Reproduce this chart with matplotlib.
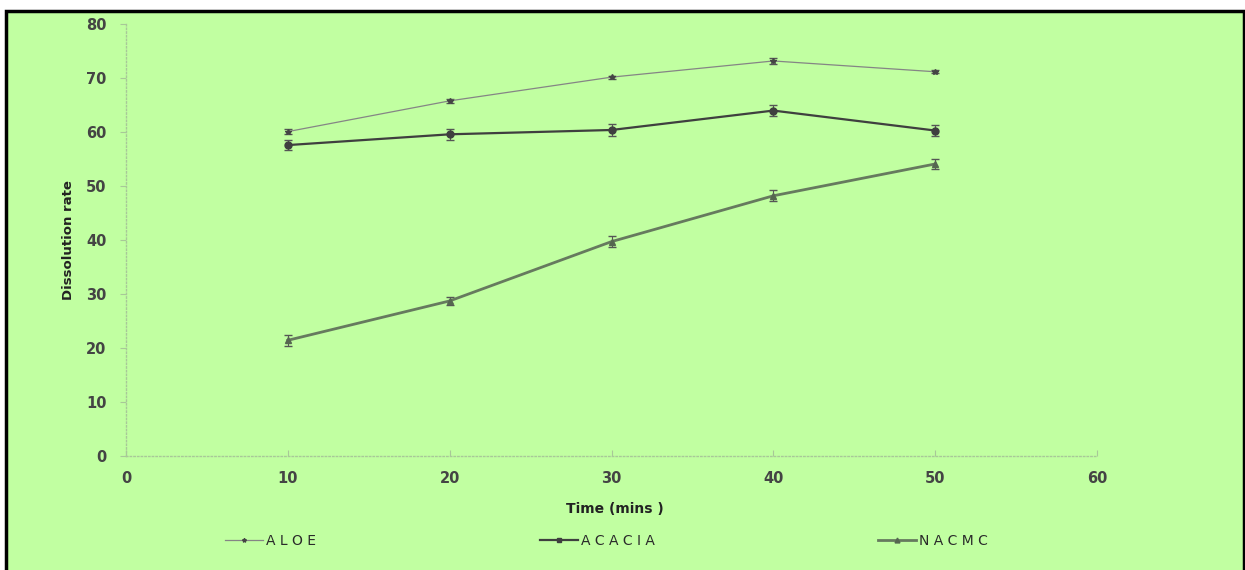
import matplotlib.pyplot as plt
from matplotlib.patches import Rectangle
from matplotlib.lines import Line2D

# Dissolution data
time_mins = [10, 20, 30, 40, 50]
aloe = [60.1, 65.8, 70.2, 73.2, 71.2]
aloe_err = [0.4, 0.4, 0.3, 0.6, 0.3]
acacia = [57.6, 59.6, 60.4, 64.0, 60.3]
acacia_err = [1.0, 1.0, 1.1, 1.0, 1.0]
nacmc = [21.4, 28.7, 39.7, 48.2, 54.1]
nacmc_err = [1.0, 0.8, 1.0, 1.0, 1.0]

series_names = ['A L O E', 'A C A C I A', 'N A C M C']
x_ticks = [0, 10, 20, 30, 40, 50, 60]
y_ticks = [0, 10, 20, 30, 40, 50, 60, 70, 80]

bg = '#c1ffa1'
tick_color = '#444444'
W, H = 1245, 570

fig = plt.figure(figsize=(12.45, 5.70), dpi=100)
fig.patch.set_facecolor('white')

# green panel with black frame (behind everything)
fig.patches.append(Rectangle((6 / W, -0.01), 1238 / W, 1 - 11 / H + 0.01,
                             transform=fig.transFigure, facecolor=bg,
                             edgecolor='black', linewidth=2.5, zorder=-5))

ax = fig.add_axes([126 / W, 1 - 455.7 / H, (1097 - 126) / W, (455.7 - 24.3) / H])
ax.set_facecolor('none')

ax.errorbar(time_mins, aloe, yerr=aloe_err, color='#858585', linewidth=0.9,
            marker='*', markersize=4, markerfacecolor='#444444', markeredgecolor='#444444',
            ecolor='#555555', elinewidth=0.8, capsize=3)
ax.errorbar(time_mins, acacia, yerr=acacia_err, color='#3f3f3f', linewidth=1.6,
            marker='o', markersize=5, markerfacecolor='#3f3f3f', markeredgecolor='#3f3f3f',
            ecolor='#555555', elinewidth=0.8, capsize=3)
ax.errorbar(time_mins, nacmc, yerr=nacmc_err, color='#667a5e', linewidth=2.0,
            marker='^', markersize=5, markerfacecolor='#556650', markeredgecolor='#556650',
            ecolor='#555555', elinewidth=0.8, capsize=3)

ax.set_xlim(0, 60)
ax.set_ylim(0, 80)
ax.set_xticks(x_ticks)
ax.set_yticks(y_ticks)

for side in ['top', 'right']:
    ax.spines[side].set_visible(False)
for side in ['left', 'bottom']:
    ax.spines[side].set_color('#a8c898')
    ax.spines[side].set_linestyle(':')
    ax.spines[side].set_linewidth(1.0)

ax.tick_params(axis='both', colors='#a8c898', length=4, width=0.8,
               labelcolor=tick_color, labelsize=10.5)
ax.tick_params(axis='x', direction='in', pad=11)
ax.tick_params(axis='y', direction='out', pad=10)
for lbl in ax.get_xticklabels() + ax.get_yticklabels():
    lbl.set_fontweight('bold')

fig.text(615 / W, 1 - 509 / H, 'Time (mins )', ha='center', va='center',
         fontsize=10, fontweight='bold', color='#222222')
fig.text(68 / W, 1 - 240 / H, 'Dissolution rate', rotation=90, ha='center', va='center',
         fontsize=9.5, fontweight='bold', color='#222222',
         family=['Liberation Sans Narrow', 'DejaVu Sans'])

handles = [
    Line2D([], [], color='#858585', linewidth=0.9, marker='*', markersize=3,
           markerfacecolor='#444444', markeredgecolor='#444444'),
    Line2D([], [], color='#3f3f3f', linewidth=1.6, marker='s', markersize=3.5,
           markerfacecolor='#3f3f3f', markeredgecolor='#3f3f3f'),
    Line2D([], [], color='#667a5e', linewidth=2.0, marker='^', markersize=3.5,
           markerfacecolor='#556650', markeredgecolor='#556650'),
]
legend_x = [225, 540, 878]
for h, name, lx in zip(handles, series_names, legend_x):
    fig.legend([h], [name], loc='center left', bbox_to_anchor=(lx / W, 1 - 541 / H),
               frameon=False, fontsize=10, handlelength=2.7, handletextpad=0.25,
               borderpad=0, borderaxespad=0, labelcolor='#2a2a2a')

fig.savefig('out.png', dpi=100, facecolor=fig.get_facecolor())
